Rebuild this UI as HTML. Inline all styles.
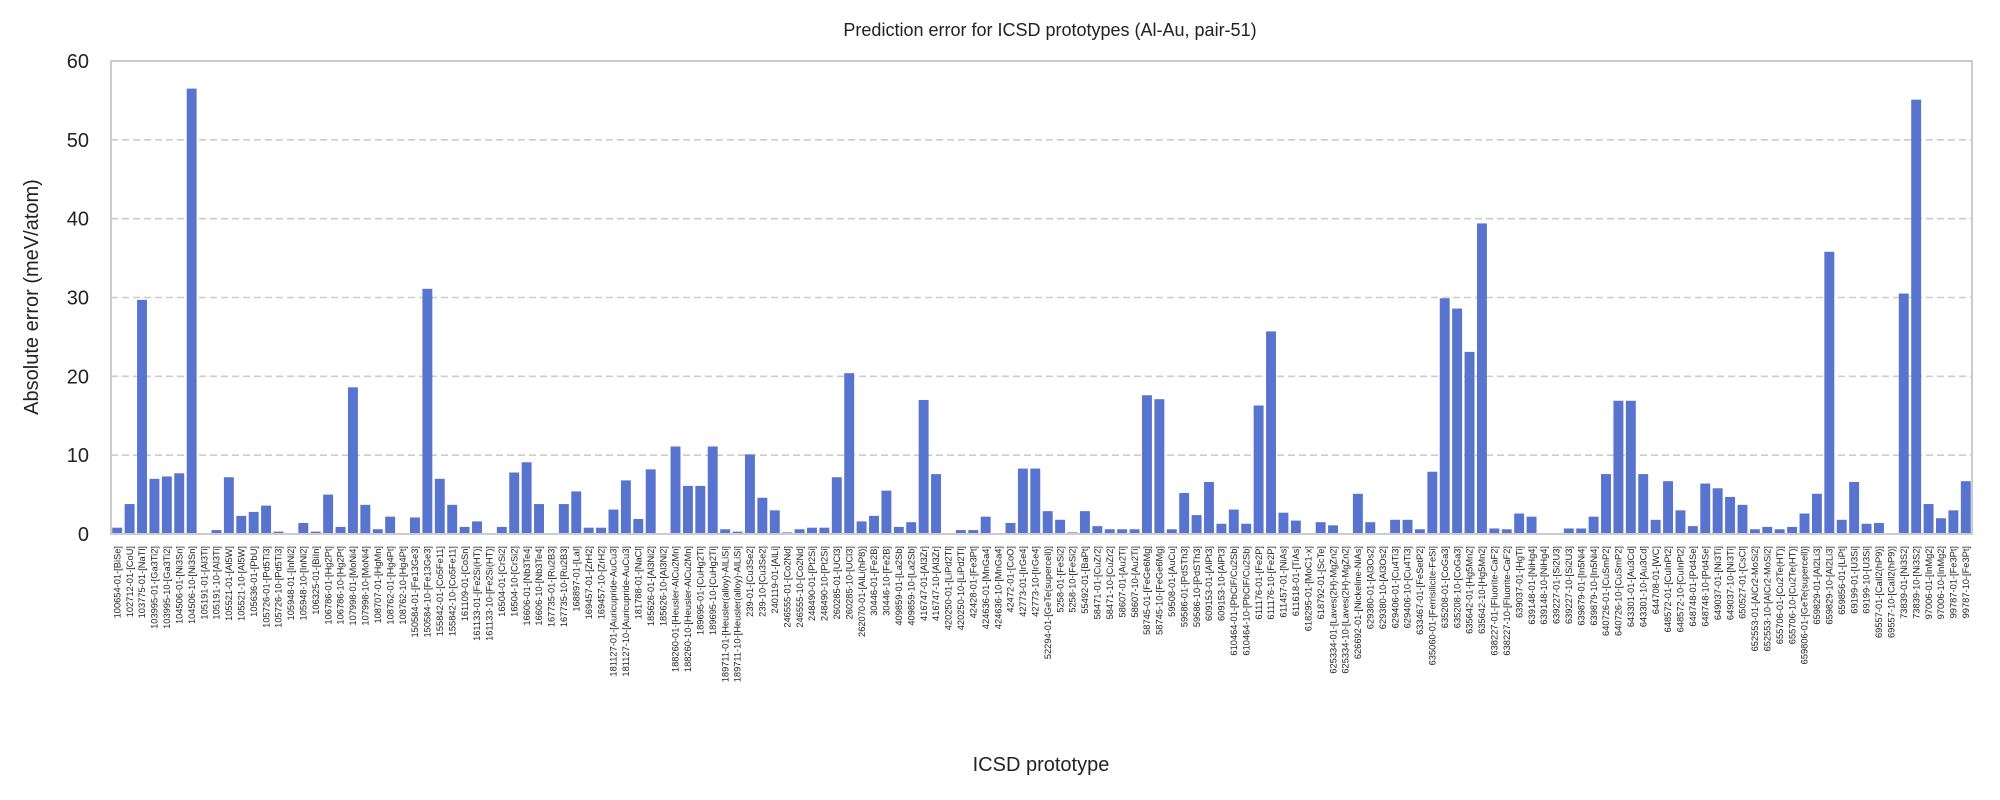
<!DOCTYPE html>
<html><head><meta charset="utf-8"><style>
html,body{margin:0;padding:0;background:#fff;}
svg{display:block;font-family:"Liberation Sans","DejaVu Sans",sans-serif;}
</style></head><body>
<svg id="chart" width="2000" height="800" viewBox="0 0 2000 800">
<rect width="2000" height="800" fill="#fff"/>
<text x="1050" y="36" text-anchor="middle" font-size="18" fill="#222">Prediction error for ICSD prototypes (Al-Au, pair-51)</text>
<g id="grid"></g><g id="bars"></g><g id="yticks"></g><g id="xticks"></g>
<rect x="111" y="61" width="1861" height="473" fill="none" stroke="#ccc" stroke-width="2"/>
<text transform="translate(38,297) rotate(-90)" text-anchor="middle" font-size="20" fill="#222">Absolute error (meV/atom)</text>
<text x="1041" y="771" text-anchor="middle" font-size="20" fill="#222">ICSD prototype</text>
</svg>
<script>
const categories=["100654-01-[BiSe]","102712-01-[CoU]","103775-01-[NaTl]","103995-01-[Ga3Ti2]","103995-10-[Ga3Ti2]","104506-01-[Ni3Sn]","104506-10-[Ni3Sn]","105191-01-[Al3Ti]","105191-10-[Al3Ti]","105521-01-[Al5W]","105521-10-[Al5W]","105636-01-[PbU]","105726-01-[Pd5Ti3]","105726-10-[Pd5Ti3]","105948-01-[InNi2]","105948-10-[InNi2]","106325-01-[BiIn]","106786-01-[Hg2Pt]","106786-10-[Hg2Pt]","107998-01-[MoNi4]","107998-10-[MoNi4]","108707-01-[HgMn]","108762-01-[Hg4Pt]","108762-10-[Hg4Pt]","150584-01-[Fe13Ge3]","150584-10-[Fe13Ge3]","155842-01-[Co5Fe11]","155842-10-[Co5Fe11]","161109-01-[CoSn]","161133-01-[Fe2Si(HT)]","161133-10-[Fe2Si(HT)]","16504-01-[CrSi2]","16504-10-[CrSi2]","16606-01-[Nb3Te4]","16606-10-[Nb3Te4]","167735-01-[Ru2B3]","167735-10-[Ru2B3]","168897-01-[LaI]","169457-01-[ZrH2]","169457-10-[ZrH2]","181127-01-[Auricupride-AuCu3]","181127-10-[Auricupride-AuCu3]","181788-01-[NaCl]","185626-01-[Al3Ni2]","185626-10-[Al3Ni2]","188260-01-[Heusler-AlCu2Mn]","188260-10-[Heusler-AlCu2Mn]","189695-01-[CuHg2Ti]","189695-10-[CuHg2Ti]","189711-01-[Heusler(alloy)-AlLiSi]","189711-10-[Heusler(alloy)-AlLiSi]","239-01-[Cu3Se2]","239-10-[Cu3Se2]","240119-01-[AlLi]","246555-01-[Co2Nd]","246555-10-[Co2Nd]","248490-01-[Pt2Si]","248490-10-[Pt2Si]","260285-01-[UCl3]","260285-10-[UCl3]","262070-01-[AlLi(hP8)]","30446-01-[Fe2B]","30446-10-[Fe2B]","409859-01-[La2Sb]","409859-10-[La2Sb]","416747-01-[Al3Zr]","416747-10-[Al3Zr]","420250-01-[LiPd2Tl]","420250-10-[LiPd2Tl]","42428-01-[Fe3Pt]","424636-01-[MnGa4]","424636-10-[MnGa4]","42472-01-[CoO]","42773-01-[IrGe4]","42773-10-[IrGe4]","52294-01-[GeTe(supercell)]","5258-01-[FeSi2]","5258-10-[FeSi2]","55492-01-[BaPt]","58471-01-[CuZr2]","58471-10-[CuZr2]","58607-01-[Au2Ti]","58607-10-[Au2Ti]","58745-01-[FeGe6Mg]","58745-10-[FeGe6Mg]","59508-01-[AuCu]","59586-01-[PdSTh3]","59586-10-[PdSTh3]","609153-01-[AlPt3]","609153-10-[AlPt3]","610464-01-[PbClF/Cu2Sb]","610464-10-[PbClF/Cu2Sb]","611176-01-[Fe2P]","611176-10-[Fe2P]","611457-01-[NiAs]","611618-01-[TiAs]","618295-01-[MoC1-x]","618792-01-[ScTe]","625334-01-[Laves(2H)-MgZn2]","625334-10-[Laves(2H)-MgZn2]","626692-01-[Nickeline-NiAs]","629380-01-[Al3Os2]","629380-10-[Al3Os2]","629406-01-[Cu4Ti3]","629406-10-[Cu4Ti3]","633467-01-[FeSetP2]","635060-01-[Ferrisilicite-FeSi]","635208-01-[CoGa3]","635208-10-[CoGa3]","635642-01-[Hg5Mn2]","635642-10-[Hg5Mn2]","638227-01-[Fluorite-CaF2]","638227-10-[Fluorite-CaF2]","639037-01-[HgTi]","639148-01-[NiHg4]","639148-10-[NiHg4]","639227-01-[Si2U3]","639227-10-[Si2U3]","639879-01-[In5Ni4]","639879-10-[In5Ni4]","640726-01-[CuSmP2]","640726-10-[CuSmP2]","643301-01-[Au3Cd]","643301-10-[Au3Cd]","644708-01-[WC]","648572-01-[CuInPt2]","648572-10-[CuInPt2]","648748-01-[Pd4Se]","648748-10-[Pd4Se]","649037-01-[Ni3Ti]","649037-10-[Ni3Ti]","650527-01-[CsCl]","652553-01-[AlCr2-MoSi2]","652553-10-[AlCr2-MoSi2]","655706-01-[Cu2Te(HT)]","655706-10-[Cu2Te(HT)]","659806-01-[GeTe(supercell)]","659829-01-[Al2Li3]","659829-10-[Al2Li3]","659856-01-[LiPt]","69199-01-[U3Si]","69199-10-[U3Si]","69557-01-[CaIl2(hP9)]","69557-10-[CaIl2(hP9)]","73839-01-[Ni3S2]","73839-10-[Ni3S2]","97006-01-[InMg2]","97006-10-[InMg2]","99787-01-[Fe3Pt]","99787-10-[Fe3Pt]"];
const errors=[0.8,3.8,29.7,7.0,7.3,7.7,56.5,0,0.5,7.2,2.3,2.8,3.6,0.3,0,1.4,0.3,5.0,0.9,18.6,3.7,0.6,2.2,0,2.1,31.1,7.0,3.7,0.9,1.6,0,0.9,7.8,9.1,3.8,0,3.8,5.4,0.8,0.8,3.1,6.8,1.9,8.2,0,11.1,6.1,6.1,11.1,0.6,0.3,10.1,4.6,3.0,0.2,0.6,0.8,0.8,7.2,20.4,1.6,2.3,5.5,0.9,1.5,17.0,7.6,0,0.5,0.5,2.2,0,1.4,8.3,8.3,2.9,1.8,0.2,2.9,1.0,0.6,0.6,0.6,17.6,17.1,0.6,5.2,2.4,6.6,1.3,3.1,1.3,16.3,25.7,2.7,1.7,0,1.5,1.1,0,5.1,1.5,0,1.8,1.8,0.6,7.9,29.9,28.6,23.1,39.4,0.7,0.6,2.6,2.2,0,0,0.7,0.7,2.2,7.6,16.9,16.9,7.6,1.8,6.7,3.0,1.0,6.4,5.8,4.7,3.7,0.6,0.9,0.6,0.9,2.6,5.1,35.8,1.8,6.6,1.3,1.4,0,30.5,55.1,3.8,2.0,3.0,6.7];
const yTicks=[0,10,20,30,40,50,60];
const NS="http://www.w3.org/2000/svg";
const X0=111,X1=1972,Y0=534,Y1=61,YMAX=60;
const step=(X1-X0)/categories.length;
const xPos=i=>X0+step*(i+0.5);
const yPos=v=>Y0-(v/YMAX)*(Y0-Y1);
function mk(t,a,p){const e=document.createElementNS(NS,t);for(const k in a)e.setAttribute(k,a[k]);p.appendChild(e);return e;}
const g=document.getElementById('grid'),b=document.getElementById('bars'),yt=document.getElementById('yticks'),xt=document.getElementById('xticks');
yTicks.forEach(v=>{
  if(v>0&&v<YMAX){const l=mk('line',{x1:X0,x2:X1,y1:yPos(v),y2:yPos(v),stroke:'#ccc','stroke-width':1.6,'stroke-dasharray':'7,4'},g);
  
  }
  const t=mk('text',{x:X0-22,y:yPos(v)+7,'text-anchor':'end','font-size':20,fill:'#222'},yt);
  t.textContent=v;
  
  
});
categories.forEach((c,i)=>{
  const bw=step*0.8,h=Y0-yPos(errors[i]);
  const r=mk('rect',{x:xPos(i)-bw/2,y:yPos(errors[i]),width:bw,height:Math.max(h,0),fill:'#5874cf'},b);
  
  
  const t=mk('text',{transform:`translate(${xPos(i)+3.2},${Y0+12}) rotate(-90)`,'text-anchor':'end','font-size':9.3,fill:'#222'},xt);
  t.textContent=c;
  
  
});
</script>
</body></html>
